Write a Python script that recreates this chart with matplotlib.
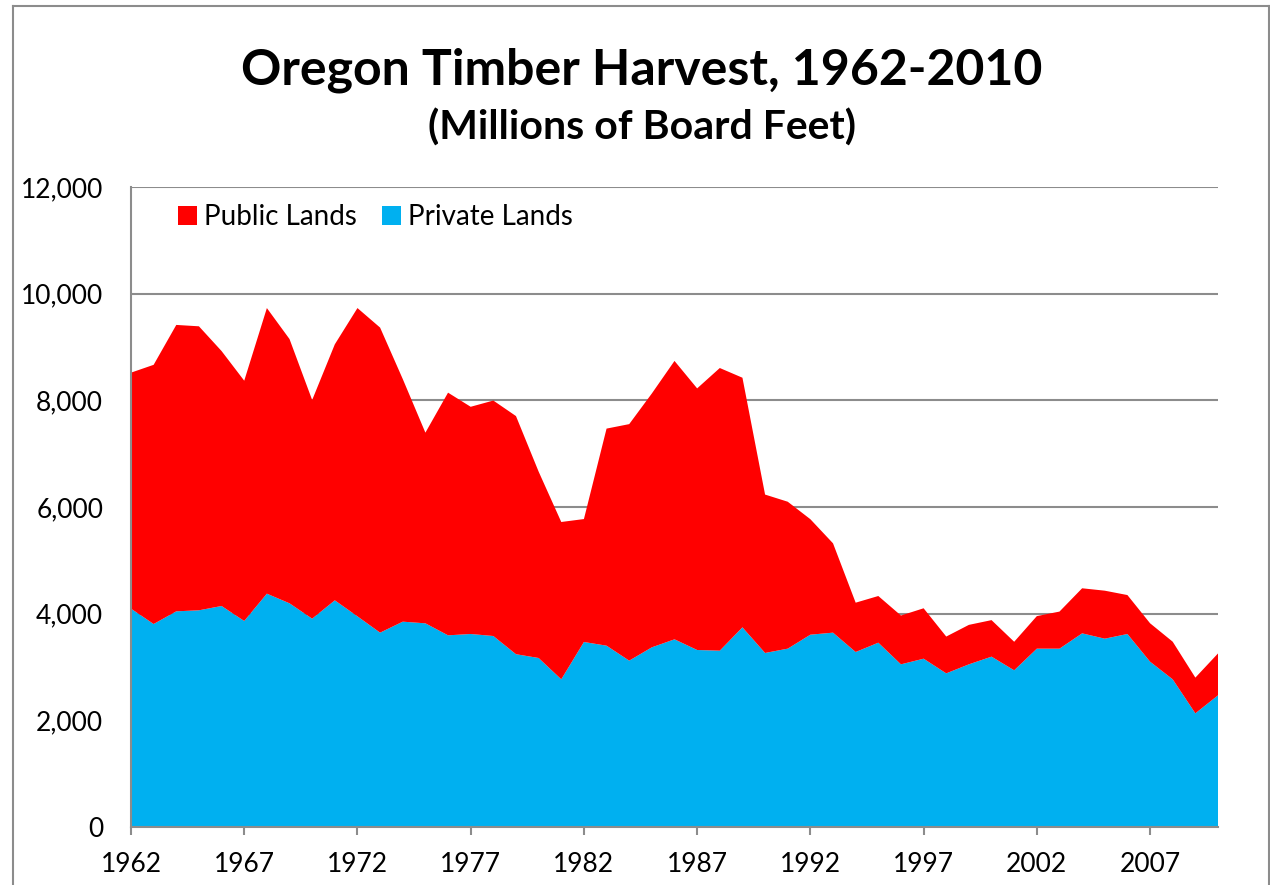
import numpy as np
import matplotlib.pyplot as plt
from matplotlib.lines import Line2D
from matplotlib.patches import Patch

# Oregon timber harvest, millions of board feet
years = list(range(1962, 2011))
private_lands = [4094, 3806, 4044, 4063, 4144, 3863, 4375, 4194, 3906, 4250,
                 3950, 3644, 3850, 3819, 3594, 3619, 3581, 3240, 3169, 2769,
                 3469, 3400, 3119, 3369, 3519, 3319, 3306, 3744, 3263, 3344,
                 3606, 3644, 3281, 3456, 3050, 3156, 2881, 3050, 3194, 2938,
                 3344, 3344, 3631, 3531, 3619, 3100, 2769, 2131, 2469]
public_lands = [4425, 4860, 5370, 5325, 4780, 4505, 5355, 4955, 4100, 4800,
                5780, 5720, 4550, 3575, 4550, 4260, 4415, 4465, 3495, 2950,
                2305, 4070, 4435, 4760, 5220, 4905, 5300, 4680, 2970, 2755,
                2165, 1675, 925, 875, 915, 945, 690, 740, 685, 535,
                610, 695, 845, 900, 730, 720, 705, 670, 785]
x_ticks = [1962, 1967, 1972, 1977, 1982, 1987, 1992, 1997, 2002, 2007]
y_ticks = [0, 2000, 4000, 6000, 8000, 10000, 12000]

blue = '#00B0F0'
red = '#FF0000'
grey = '#8C8C8C'

plt.rcParams['font.family'] = ['Lato', 'DejaVu Sans']

fig = plt.figure(figsize=(12.7, 8.85), dpi=100)
ax = fig.add_axes([131 / 1270, 1 - 827 / 885, (1218 - 131) / 1270, (827 - 187) / 885])

ax.stackplot(years, private_lands, public_lands, colors=[blue, red], linewidth=0)

ax.set_xlim(1962, 2010)
ax.set_ylim(0, 12000)
ax.set_xticks(x_ticks)
ax.set_yticks(y_ticks)
ax.set_yticklabels([f'{v:,}' for v in y_ticks])
ax.grid(axis='y', color=grey, linewidth=1.5)
ax.set_axisbelow(True)

for s in ['top', 'right']:
    ax.spines[s].set_visible(False)
for s in ['left', 'bottom']:
    ax.spines[s].set_color(grey)
    ax.spines[s].set_linewidth(1.5)
    ax.spines[s].set_zorder(5)

ax.tick_params(axis='y', length=0, pad=20, labelsize=19)
ax.tick_params(axis='x', length=6, width=1.5, color=grey, pad=12, labelsize=19)

handles = [Patch(facecolor=red, label='Public Lands'),
           Patch(facecolor=blue, label='Private Lands')]
ax.legend(handles=handles, loc='upper left', bbox_to_anchor=(0.02, 1.012), ncol=2,
          frameon=False, fontsize=20, handlelength=0.7, handleheight=0.7,
          handletextpad=0.25, columnspacing=0.9)

fig.text(642 / 1270, 1 - 70 / 885, 'Oregon Timber Harvest, 1962-2010',
         ha='center', va='center', fontsize=36, fontweight='bold')
fig.text(642 / 1270, 1 - 128 / 885, '(Millions of Board Feet)',
         ha='center', va='center', fontsize=29.5, fontweight='bold')

# outer chart border
for xs, ys in [([13 / 1270, 13 / 1270], [0, 1 - 6 / 885]),
               ([13 / 1270, 1269 / 1270], [1 - 6 / 885, 1 - 6 / 885]),
               ([1269 / 1270, 1269 / 1270], [0, 1 - 6 / 885])]:
    fig.add_artist(Line2D(xs, ys, transform=fig.transFigure, color=grey, linewidth=1.5))

fig.savefig('out.png', dpi=100)
